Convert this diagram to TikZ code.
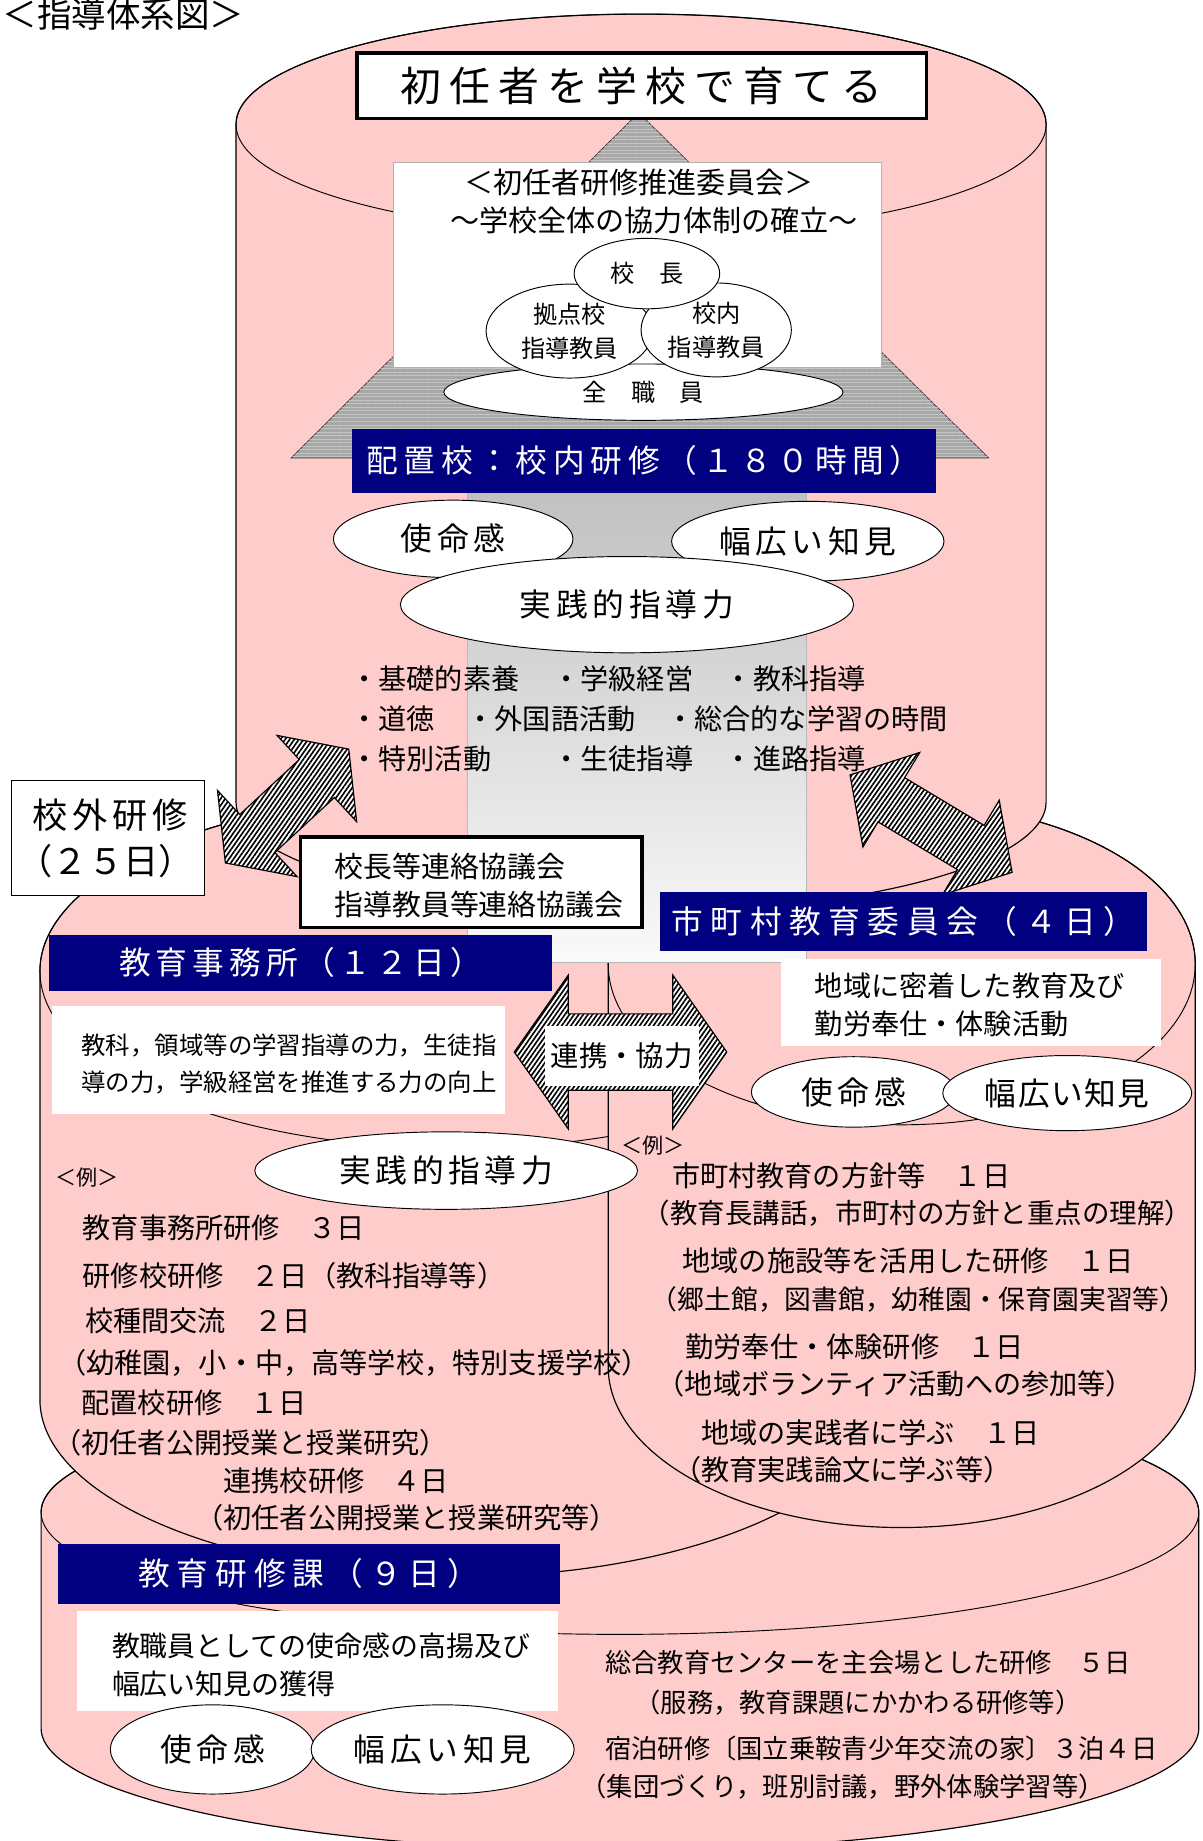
\documentclass[tikz,border=0pt]{standalone}
\usepackage{fontspec}
\setmainfont{Noto Sans CJK JP}
\usetikzlibrary{shapes.geometric,patterns.meta}
\definecolor{pinkfill}{RGB}{255,204,204}
\definecolor{navybar}{RGB}{0,0,128}

\begin{document}
\begin{tikzpicture}[x=0.5pt,y=-0.5pt]
    \tikzstyle{cyl}=[fill=pinkfill, draw=black, line width=0.5pt]
    \tikzstyle{bar}=[fill=navybar, text=white, inner sep=0pt]
    \tikzstyle{whitebox}=[fill=white, inner sep=0pt]
    \tikzstyle{oval}=[ellipse, draw, fill=white, inner sep=0pt,
                        font=\fontsize{13.5}{16}\selectfont\addfontfeature{LetterSpace=15}]
    \tikzstyle{member}=[ellipse, draw, fill=white, inner sep=0pt, align=center,
                        font=\fontsize{10.3}{14.5}\selectfont]
    \tikzstyle{txt}=[inner sep=0pt, anchor=west, align=left,
                        font=\fontsize{12}{16}\selectfont]
    \tikzstyle{txtsm}=[inner sep=0pt, anchor=west,
                        font=\fontsize{11.2}{14}\selectfont]
    \tikzstyle{hatch}=[draw, line width=0.5pt, preaction={fill=white},
                        pattern={Lines[angle=55,distance=1.6pt,line width=0.7pt]}]

    \useasboundingbox (0,0) rectangle (1024,1568);
    \fill[white] (0,0) rectangle (1024,1568);

    % cylinders: back to front
    \draw[cyl] (35,1288) -- (35,1472) arc[start angle=180,end angle=0,x radius=493,y radius=104]
        -- (1021,1288) arc[start angle=0,end angle=-180,x radius=493,y radius=104] -- cycle;
    \draw (528,1288) ellipse [x radius=493, y radius=104];
    \draw[cyl] (34,827) -- (34,1192) arc[start angle=180,end angle=0,x radius=356,y radius=151]
        -- (746,827) arc[start angle=0,end angle=-180,x radius=356,y radius=151] -- cycle;
    \draw (390,827) ellipse [x radius=356, y radius=151];
    \draw[cyl] (518,821) -- (518,1164) arc[start angle=180,end angle=0,x radius=250,y radius=137]
        -- (1018,821) arc[start angle=0,end angle=-180,x radius=250,y radius=137] -- cycle;
    \draw (768,821) ellipse [x radius=250, y radius=137];
    \draw[cyl] (201,106) -- (201,683) arc[start angle=180,end angle=0,x radius=345,y radius=94]
        -- (891,106) arc[start angle=0,end angle=-180,x radius=345,y radius=94] -- cycle;
    \draw (546,106) ellipse [x radius=345, y radius=94];

    % big grey arrow
    \shade[top color=gray!52, bottom color=gray!4, draw=gray!55, line width=0.3pt]
        (398,390) rectangle (687,820);
    \path[fill=gray!68, draw=gray!40!black, line width=0.3pt] (544,96) -- (842,390) -- (248,390) -- cycle;
    \path[pattern={Lines[angle=0,distance=1.5pt,line width=0.4pt]}, pattern color=gray!45]
        (544,96) -- (842,390) -- (248,390) -- cycle;

    \node[draw, line width=1.5pt, fill=white, minimum width=242.5pt, minimum height=28pt,
          font=\fontsize{17.4}{20}\selectfont\addfontfeature{LetterSpace=20}]
          (goal) at (546.5,73) {初任者を学校で育てる};

    \node[whitebox, draw=gray!60, minimum width=208pt, minimum height=87.5pt] (committee) at (543,225.5) {};
    \node[font=\fontsize{12.4}{15}\selectfont, inner sep=0pt] (comtitle) at (544,155) {＜初任者研修推進委員会＞};
    \node[font=\fontsize{12.4}{15}\selectfont, inner sep=0pt] (comaim) at (557,187.5) {～学校全体の協力体制の確立～};
    \node[member, minimum width=170pt, minimum height=24pt] (staff) at (548,334) {全　職　員};
    \node[member, minimum width=71pt, minimum height=40pt] (base) at (485,282) {拠点校\\指導教員};
    \node[member, minimum width=64pt, minimum height=40pt] (inner) at (610,281) {校内\\指導教員};
    \node[member, minimum width=62pt, minimum height=30pt] (principal) at (551,233) {校　長};

    \node[bar, minimum width=248.5pt, minimum height=27.5pt,
          font=\fontsize{13.5}{16}\selectfont\addfontfeature{LetterSpace=18}]
          (school) at (548.5,392.5) {配置校：校内研修（１８０時間）};

    \node[oval, minimum width=102pt, minimum height=33pt] (mission) at (386,459) {使命感};
    \node[oval, minimum width=116pt, minimum height=34pt] (vision) at (688,461) {幅広い知見};
    \node[oval, minimum width=193pt, minimum height=41pt] (practice) at (534,515) {実践的指導力};

    \node[txt] (b1) at (298,578) {・基礎的素養};
    \node[txt] (b2) at (470,578) {・学級経営};
    \node[txt] (b3) at (617,578) {・教科指導};
    \node[txt] (b4) at (298,612.5) {・道徳};
    \node[txt] (b5) at (397,612.5) {・外国語活動};
    \node[txt] (b6) at (567,612.5) {・総合的な学習の時間};
    \node[txt] (b7) at (298,646.5) {・特別活動};
    \node[txt] (b8) at (470,646.5) {・生徒指導};
    \node[txt] (b9) at (617,646.5) {・進路指導};

    % hatched double arrows
    \begin{scope}[shift={(244.5,686.5)}, rotate=42.7]
        \draw[hatch] (-71.5,0) -- (-34.5,50) -- (-34.5,22) -- (34.5,22) -- (34.5,50) -- (71.5,0)
            -- (34.5,-50) -- (34.5,-22) -- (-34.5,-22) -- (-34.5,-50) -- cycle;
    \end{scope}
    \begin{scope}[shift={(793,701.5)}, rotate=-31]
        \draw[hatch] (-80.5,0) -- (-39.5,47) -- (-39.5,22) -- (39.5,22) -- (39.5,47) -- (80.5,0)
            -- (39.5,-47) -- (39.5,-22) -- (-39.5,-22) -- (-39.5,-47) -- cycle;
    \end{scope}
    \begin{scope}[shift={(528.5,896)}]
        \draw[hatch] (-90.5,0) -- (-44.5,65.5) -- (-44.5,32.5) -- (44.5,32.5) -- (44.5,65.5) -- (90.5,0)
            -- (44.5,-65.5) -- (44.5,-32.5) -- (-44.5,-32.5) -- (-44.5,-65.5) -- cycle;
    \end{scope}

    \node[draw, fill=white, minimum width=82pt, minimum height=49pt] (outside) at (92,714) {};
    \node[inner sep=0pt, font=\fontsize{15}{18}\selectfont\addfontfeature{LetterSpace=14}]
          (outside1) at (94,694.5) {校外研修};
    \node[inner sep=0pt, font=\fontsize{15}{18}\selectfont] (outside2) at (90,733) {（２５日）};

    \node[draw, line width=1.5pt, fill=white, minimum width=145.5pt, minimum height=38.5pt]
          (liaison) at (401.5,751.5) {};
    \node[txt, font=\fontsize{12.3}{16}\selectfont] (liaison1) at (284.5,738.4) {校長等連絡協議会};
    \node[txt, font=\fontsize{12.3}{16}\selectfont] (liaison2) at (284.5,770) {指導教員等連絡協議会};

    % education office
    \node[bar, minimum width=214pt, minimum height=24pt,
          font=\fontsize{13.5}{16}\selectfont\addfontfeature{LetterSpace=16}]
          (office) at (256,820) {教育事務所（１２日）};
    \node[whitebox, minimum width=193pt, minimum height=46pt] (officebox) at (237,903) {};
    \node[txt, font=\fontsize{10.4}{15.9}\selectfont] (officeaim) at (69,906)
          {教科，領域等の学習指導の力，生徒指\\導の力，学級経営を推進する力の向上};
    \node[whitebox, minimum width=65.5pt, minimum height=25.5pt, font=\fontsize{12.1}{15}\selectfont]
          (coop) at (529.5,899.5) {連携・協力};
    \node[oval, minimum width=163pt, minimum height=33pt] (practice2) at (380,997) {実践的指導力};

    \node[inner sep=0pt, anchor=west, font=\fontsize{9}{11}\selectfont] (exleft) at (47,1003) {＜例＞};
    \node[txt] (l1) at (70,1046) {教育事務所研修　３日};
    \node[txt] (l2) at (70,1087) {研修校研修　２日（教科指導等）};
    \node[txt] (l3) at (72,1125) {校種間交流　２日};
    \node[txt] (l4) at (49,1161) {（幼稚園，小・中，高等学校，特別支援学校）};
    \node[txt] (l5) at (69,1194.5) {配置校研修　１日};
    \node[txt] (l6) at (45,1228.5) {（初任者公開授業と授業研究）};
    \node[txt] (l7) at (190,1261) {連携校研修　４日};
    \node[txt] (l8) at (166,1293) {（初任者公開授業と授業研究等）};

    % city boards
    \node[bar, minimum width=207.5pt, minimum height=25pt,
          font=\fontsize{13.5}{16}\selectfont\addfontfeature{LetterSpace=24}]
          (city) at (769.5,785) {市町村教育委員会（４日）};
    \node[whitebox, minimum width=162pt, minimum height=37pt] (citybox) at (827,854) {};
    \node[txt] (cityaim) at (693.6,856) {地域に密着した教育及び\\勤労奉仕・体験活動};
    \node[oval, minimum width=87pt, minimum height=30pt] (mission2) at (727,930) {使命感};
    \node[oval, minimum width=106pt, minimum height=32pt,
          font=\fontsize{13.5}{16}\selectfont\addfontfeature{LetterSpace=5}]
          (vision2) at (909,931) {幅広い知見};

    \node[inner sep=0pt, anchor=west, font=\fontsize{9}{11}\selectfont] (exright) at (529,976) {＜例＞};
    \node[txt] (r1) at (572,1001) {市町村教育の方針等　１日};
    \node[txt, font=\fontsize{11.7}{16}\selectfont] (r2) at (547,1033) {（教育長講話，市町村の方針と重点の理解）};
    \node[txt] (r3) at (581,1074) {地域の施設等を活用した研修　１日};
    \node[txt, font=\fontsize{11.4}{16}\selectfont] (r4) at (554,1107) {（郷土館，図書館，幼稚園・保育園実習等）};
    \node[txt] (r5) at (583.5,1147) {勤労奉仕・体験研修　１日};
    \node[txt] (r6) at (559,1178.5) {（地域ボランティア活動への参加等）};
    \node[txt] (r7) at (597,1220) {地域の実践者に学ぶ　１日};
    \node[txt] (r8) at (573,1252) {（教育実践論文に学ぶ等）};

    % education centre
    \node[bar, minimum width=214pt, minimum height=25.5pt,
          font=\fontsize{13.5}{16}\selectfont\addfontfeature{LetterSpace=22}]
          (centre) at (263,1340.5) {教育研修課（９日）};
    \node[whitebox, minimum width=204.5pt, minimum height=42.5pt] (centrebox) at (270.5,1414.5) {};
    \node[txt, font=\fontsize{11.9}{16.25}\selectfont] (centreaim) at (95,1418)
          {教職員としての使命感の高揚及び\\幅広い知見の獲得};
    \node[oval, minimum width=87pt, minimum height=38pt] (mission3) at (181,1490) {使命感};
    \node[oval, minimum width=112pt, minimum height=38pt] (vision3) at (377,1490) {幅広い知見};

    \node[txtsm] (c1) at (515,1416) {総合教育センターを主会場とした研修　５日};
    \node[txtsm] (c2) at (540,1450) {（服務，教育課題にかかわる研修等）};
    \node[txtsm] (c3) at (515,1489) {宿泊研修〔国立乗鞍青少年交流の家〕３泊４日};
    \node[txtsm] (c4) at (494,1522) {（集団づくり，班別討議，野外体験学習等）};

    \node[inner sep=0pt, anchor=west, font=\fontsize{14.7}{17}\selectfont] (title) at (2,12.5) {＜指導体系図＞};
\end{tikzpicture}
\end{document}
